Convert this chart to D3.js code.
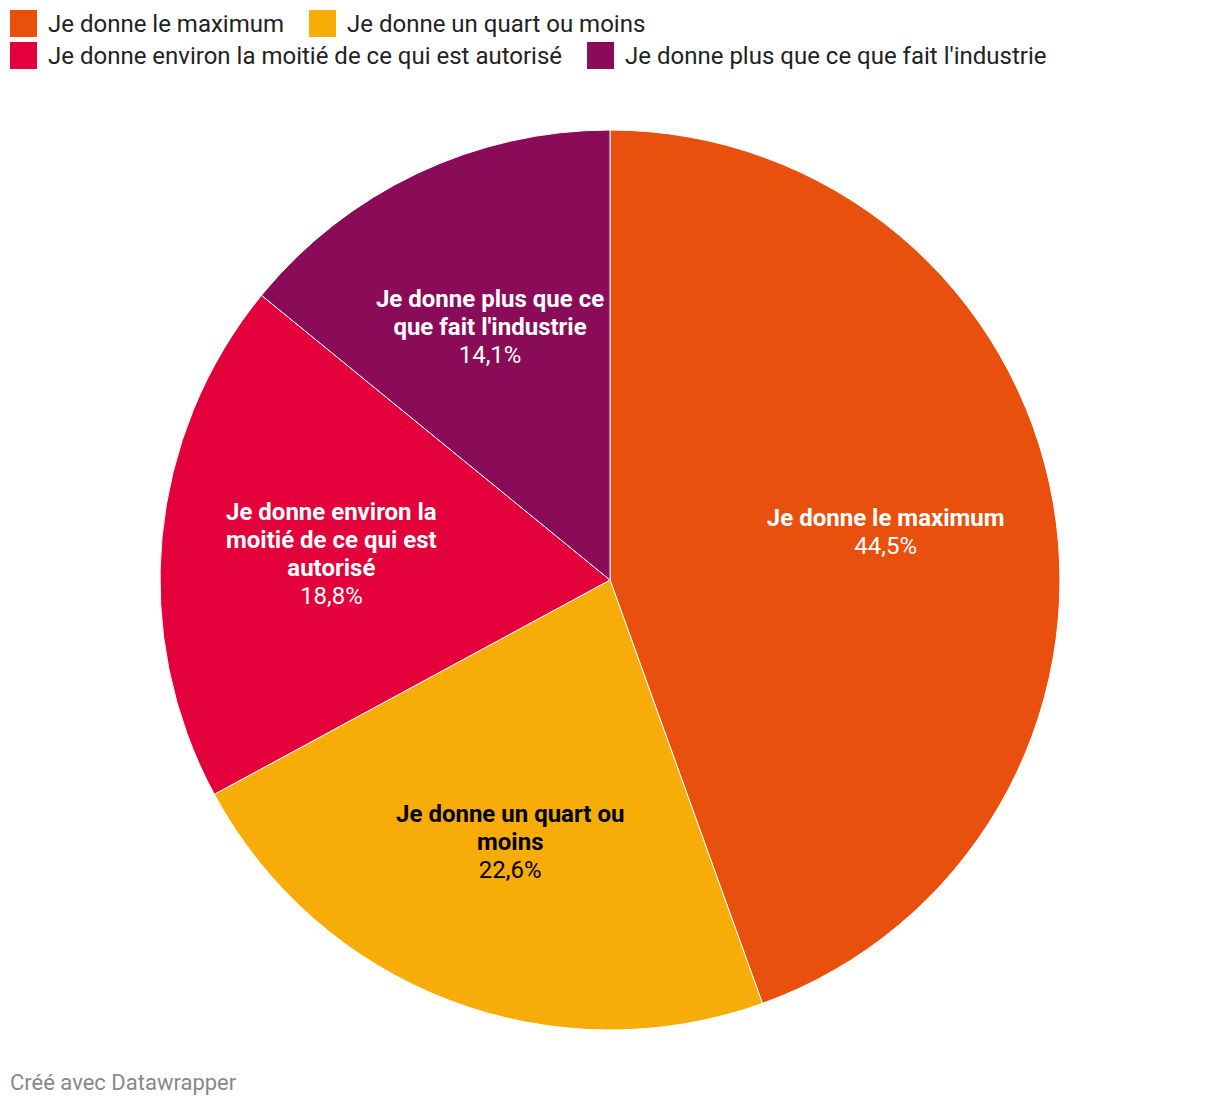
<!DOCTYPE html>
<html>
<head>
<meta charset="utf-8">
<script src="https://cdn.jsdelivr.net/npm/d3@7"></script>
<style>
  body { margin: 0; background: #fff; font-family: Roboto, sans-serif; }
</style>
</head>
<body>
<script>
// data
var categories = [
    "Je donne le maximum",
    "Je donne un quart ou moins",
    "Je donne environ la moitié de ce qui est autorisé",
    "Je donne plus que ce que fait l'industrie"
];
var values = [44.5, 22.6, 18.8, 14.1];
var colors = ["#e9500e", "#f8ac08", "#e4003a", "#8a0b58"];
var labelColors = ["#fff", "#000", "#fff", "#fff"];
// legend rows as in the picture
var legendRows = [[0, 1], [2, 3]];

function init() {
    var w = 1220;
    var h = 1106;
    var cx = 610, cy = 580, r = 450;

    var svg = d3.select("body")
                .append("svg")
                .attr("width", w)
                .attr("height", h);

    // legend, items flow left to right
    legendRows.forEach(function(row, ri) {
        var x = 10;
        row.forEach(function(ci) {
            var g = svg.append("g")
                .attr("transform", "translate(" + x + "," + (10 + ri * 32) + ")");
            g.append("rect")
                .attr("width", 27)
                .attr("height", 27)
                .attr("fill", colors[ci]);
            var t = g.append("text")
                .attr("x", 38)
                .attr("y", 22)
                .style("font-size", "24px")
                .attr("fill", "#222")
                .text(categories[ci]);
            x += 38 + t.node().getComputedTextLength() + 25;
        });
    });

    var pie = d3.pie().sort(null).value(function(d) { return d; });
    var arcs = pie(values);
    var arc = d3.arc().innerRadius(0).outerRadius(r);
    var labelArc = d3.arc().innerRadius(r * 0.622).outerRadius(r * 0.622);

    var chart = svg.append("g")
        .attr("transform", "translate(" + cx + "," + cy + ")");

    chart.selectAll("path")
        .data(arcs)
        .enter()
        .append("path")
        .attr("d", arc)
        .attr("fill", function(d, i) { return colors[i]; })
        .attr("stroke", "#fff")
        .attr("stroke-width", 1);

    var fmt = function(v) { return d3.format(".1f")(v).replace(".", ",") + "%"; };

    arcs.forEach(function(d, i) {
        var c = labelArc.centroid(d);
        var t = chart.append("text")
            .attr("text-anchor", "middle")
            .attr("fill", labelColors[i])
            .style("font-size", "24px");
        // wrap label words
        var words = categories[i].split(" ");
        var lines = [];
        var line = [];
        var probe = chart.append("text").style("font-size", "24px").style("font-weight", "bold");
        words.forEach(function(wd) {
            line.push(wd);
            probe.text(line.join(" "));
            if (probe.node().getComputedTextLength() > 250 && line.length > 1) {
                line.pop();
                lines.push(line.join(" "));
                line = [wd];
            }
        });
        lines.push(line.join(" "));
        probe.remove();

        var n = lines.length + 1;
        var lh = 28;
        var y0 = c[1] - (n - 1) * lh / 2 + 8;
        lines.forEach(function(l, k) {
            t.append("tspan")
                .attr("x", c[0])
                .attr("y", y0 + k * lh)
                .style("font-weight", "bold")
                .text(l);
        });
        t.append("tspan")
            .attr("x", c[0])
            .attr("y", y0 + lines.length * lh)
            .text(fmt(values[i]));
    });

    // footer
    svg.append("text")
        .attr("x", 10)
        .attr("y", 1090)
        .style("font-size", "22px")
        .attr("fill", "#888")
        .text("Créé avec Datawrapper");
}
window.onload = init;
</script>
</body>
</html>
